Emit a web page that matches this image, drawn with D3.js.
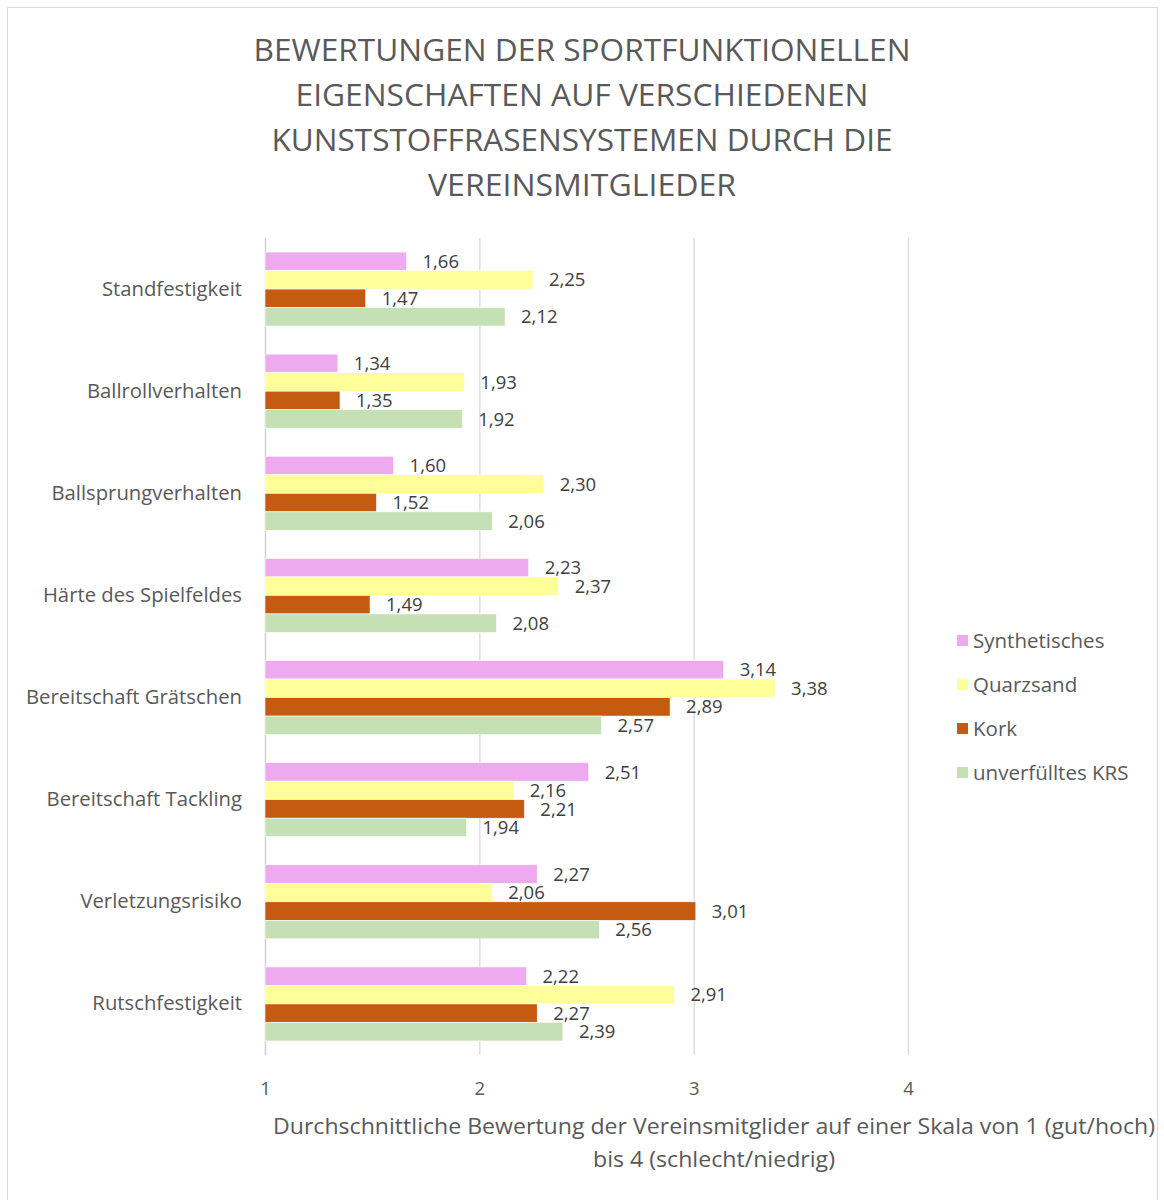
<!DOCTYPE html>
<html>
<head>
<meta charset="utf-8">
<script src="https://cdn.jsdelivr.net/npm/d3@7"></script>
<style>
  html, body { margin: 0; padding: 0; background: #fff; }
  svg { display: block; font-family: "Open Sans", "Noto Sans", sans-serif; }
</style>
</head>
<body>
<svg id="chart" width="1164" height="1200"></svg>
<script>
// Sportfunktionelle Eigenschaften – Bewertungen je Kunstrasensystem
const categories = [
  "Standfestigkeit",
  "Ballrollverhalten",
  "Ballsprungverhalten",
  "Härte des Spielfeldes",
  "Bereitschaft Grätschen",
  "Bereitschaft Tackling",
  "Verletzungsrisiko",
  "Rutschfestigkeit"
];
const seriesNames = ["Synthetisches", "Quarzsand", "Kork", "unverfülltes KRS"];
const synthetisches = [1.66, 1.34, 1.60, 2.23, 3.14, 2.51, 2.27, 2.22];
const quarzsand     = [2.25, 1.93, 2.30, 2.37, 3.38, 2.16, 2.06, 2.91];
const kork          = [1.47, 1.35, 1.52, 1.49, 2.89, 2.21, 3.01, 2.27];
const unverfuellt   = [2.12, 1.92, 2.06, 2.08, 2.57, 1.94, 2.56, 2.39];
const tickValues = [1, 2, 3, 4];
const titleLines = [
  "BEWERTUNGEN DER SPORTFUNKTIONELLEN",
  "EIGENSCHAFTEN AUF VERSCHIEDENEN",
  "KUNSTSTOFFRASENSYSTEMEN DURCH DIE",
  "VEREINSMITGLIEDER"
];
const axisTitleLines = [
  "Durchschnittliche Bewertung der Vereinsmitglider auf einer Skala von  1 (gut/hoch)",
  "bis 4 (schlecht/niedrig)"
];

const seriesValues = [synthetisches, quarzsand, kork, unverfuellt];
const colors = ["#EEAAEE", "#FFFF99", "#C55A11", "#C5E0B4"];
const fmt = v => v.toFixed(2).replace(".", ",");

const svg = d3.select("#chart");

// outer frame
svg.append("rect")
  .attr("x", 7.5).attr("y", 7.5)
  .attr("width", 1150).attr("height", 1220)
  .attr("fill", "#fff").attr("stroke", "#d9d9d9").attr("stroke-width", 1);

// title
const titleW = [657, 573, 621, 308];
svg.append("g").selectAll("text")
  .data(titleLines)
  .join("text")
  .attr("x", 582)
  .attr("y", (d, i) => 61 + i * 45)
  .attr("text-anchor", "middle")
  .attr("font-size", 31)
  .attr("fill", "#595959")
  .attr("textLength", (d, i) => titleW[i])
  .attr("lengthAdjust", "spacingAndGlyphs")
  .text(d => d);

const plotTop = 238, plotBottom = 1055;
const x = d3.scaleLinear().domain([1, 4]).range([265, 908]);
const y = d3.scaleBand().domain(categories).range([plotTop, plotBottom])
  .paddingInner(0.275).paddingOuter(0.1375);
const ySub = d3.scaleBand().domain(seriesNames).range([0, y.bandwidth()]);

// vertical gridlines
const grid = svg.append("g")
  .attr("transform", `translate(0,${plotBottom})`)
  .call(d3.axisBottom(x).tickValues(tickValues).tickSize(-(plotBottom - plotTop)).tickFormat(""));
grid.select(".domain").remove();
grid.selectAll("line").attr("stroke", "#d9d9d9").attr("stroke-width", 1.3);

// value axis labels
const xAxis = svg.append("g")
  .attr("transform", `translate(0,${plotBottom})`)
  .call(d3.axisBottom(x).tickValues(tickValues).tickSize(0).tickPadding(27).tickFormat(d3.format("d")));
xAxis.select(".domain").remove();
xAxis.selectAll("text")
  .attr("font-family", "Open Sans")
  .attr("font-size", 18.5).attr("fill", "#595959");

// category axis
const yAxis = svg.append("g")
  .attr("transform", `translate(${x(1)},0)`)
  .call(d3.axisLeft(y).tickSize(0).tickPadding(23));
yAxis.select(".domain").attr("stroke", "#d0d0d0").attr("stroke-width", 1.3);
yAxis.selectAll("text")
  .attr("font-family", "Open Sans")
  .attr("font-size", 20.3).attr("fill", "#595959");

// bars
const groups = svg.append("g").selectAll("g")
  .data(categories)
  .join("g")
  .attr("transform", d => `translate(0,${y(d)})`);

const rows = groups.selectAll("g.bar")
  .data((c, ci) => seriesNames.map((s, si) => ({ s, si, v: seriesValues[si][ci] })))
  .join("g").attr("class", "bar");

rows.append("rect")
  .attr("x", x(1))
  .attr("y", d => ySub(d.s))
  .attr("width", d => x(d.v) - x(1))
  .attr("height", ySub.bandwidth())
  .attr("fill", d => colors[d.si])
  .attr("stroke", "#ffffff").attr("stroke-width", 0.6);

rows.append("text")
  .attr("x", d => x(d.v) + 16)
  .attr("y", d => ySub(d.s) + ySub.bandwidth() / 2)
  .attr("dy", "0.36em")
  .attr("font-size", 18.5)
  .attr("fill", "#404040")
  .text(d => fmt(d.v));

// axis title
const axW = [882, 242];
svg.append("g").selectAll("text")
  .data(axisTitleLines)
  .join("text")
  .attr("x", 714)
  .attr("y", (d, i) => 1134 + i * 33)
  .attr("text-anchor", "middle")
  .attr("font-size", 21)
  .attr("fill", "#595959")
  .attr("textLength", (d, i) => axW[i])
  .attr("lengthAdjust", "spacingAndGlyphs")
  .text(d => d);

// legend
const legend = svg.append("g").selectAll("g")
  .data(seriesNames)
  .join("g")
  .attr("transform", (d, i) => `translate(957,${641 + i * 44})`);
legend.append("rect")
  .attr("x", 0).attr("y", -6)
  .attr("width", 11).attr("height", 11)
  .attr("fill", (d, i) => colors[i]);
legend.append("text")
  .attr("x", 16).attr("y", 0)
  .attr("dy", "0.36em")
  .attr("font-size", 20.5)
  .attr("fill", "#595959")
  .text(d => d);
</script>
</body>
</html>
